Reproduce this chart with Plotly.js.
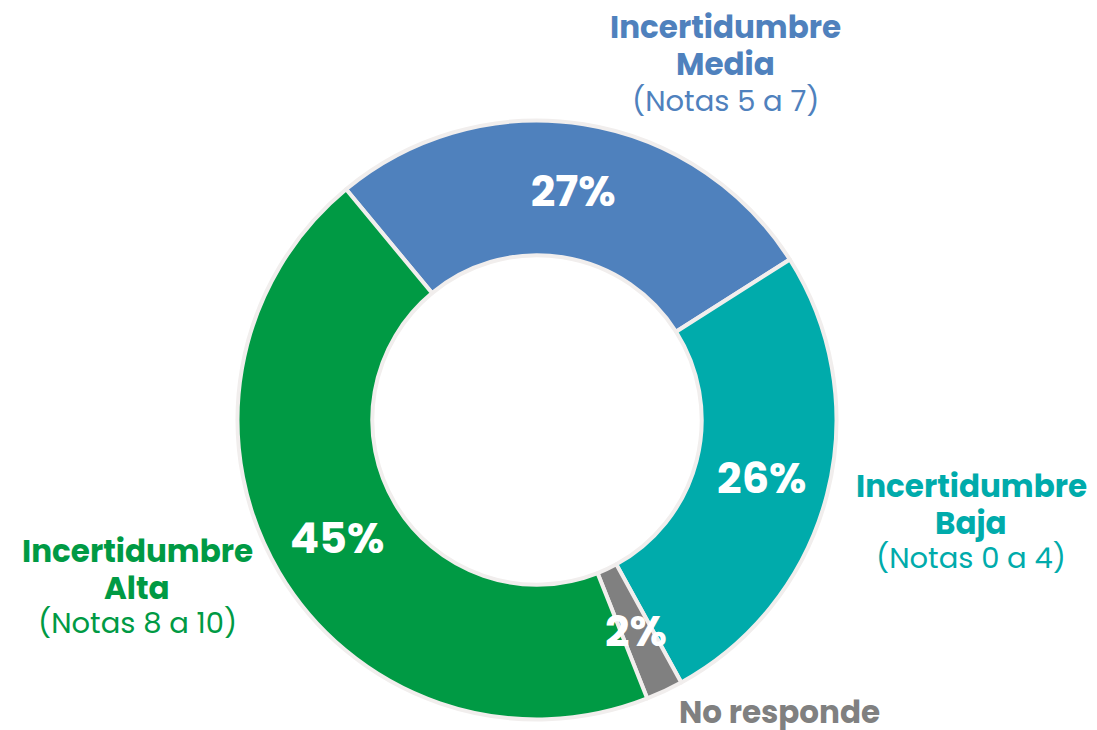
<!DOCTYPE html>
<html>
<head>
<meta charset="utf-8">
<script src="https://cdn.plot.ly/plotly-3.0.1.min.js"></script>
<style>html,body{margin:0;padding:0;background:#fff;}#chart{width:1097px;height:730px;}</style>
</head>
<body>
<div id="chart"></div>
<script>
const categories = ["Incertidumbre Media", "Incertidumbre Baja", "No responde", "Incertidumbre Alta"];
const values = [27, 26, 2, 45];
const pctLabels = ["27%", "26%", "2%", "45%"];
const notes = ["(Notas 5 a 7)", "(Notas 0 a 4)", "", "(Notas 8 a 10)"];
const colors = ["#4f81bd", "#00abab", "#808080", "#009a44"];

const FONT = "Poppins, 'Open Sans', Inter, sans-serif";
const W = 1097, H = 730;
const DOM = {x: [0.2165, 0.7625], y: [0.0137, 0.8356]};
const ROT = -39.6;

const trace = {
  type: "pie",
  labels: categories,
  values: values,
  sort: false,
  direction: "clockwise",
  rotation: ROT,
  hole: 0.55,
  marker: {colors: colors, line: {color: "#f1eeed", width: 4}},
  texttemplate: pctLabels.map((t, i) => values[i] < 5 ? "" : t),
  textinfo: "text",
  textposition: "inside",
  insidetextorientation: "horizontal",
  textfont: {family: FONT, size: 43, color: "#ffffff", weight: 700},
  domain: DOM,
  showlegend: false,
  hoverinfo: "label+percent"
};

function txt(text, cx, cy, color, size, bold) {
  return {
    text: bold ? "<b>" + text + "</b>" : text,
    x: cx / W, y: 1 - cy / H, xref: "paper", yref: "paper",
    xanchor: "center", yanchor: "middle", showarrow: false,
    font: {family: FONT, size: size, color: color}
  };
}

// label blocks: [category index, center x, line centre ys]
const blocks = [
  [0, 725, [27, 64, 101]],
  [1, 971, [486, 523, 558]],
  [3, 137, [551, 588, 623]]
];
const annotations = [];
blocks.forEach(([i, cx, ys]) => {
  const parts = categories[i].split(" ");
  annotations.push(txt(parts[0], cx, ys[0], colors[i], 31, true));
  annotations.push(txt(parts[1], cx, ys[1], colors[i], 31, true));
  annotations.push(txt(notes[i], cx, ys[2], colors[i], 29, false));
});
annotations.push(txt(categories[2], 779, 712, colors[2], 31, true));

// small-slice percent label placed on ring middle, computed from data
const total = values.reduce((a, b) => a + b, 0);
let cum = 0;
values.forEach((v, i) => {
  const mid = ROT + (cum + v / 2) / total * 360;
  cum += v;
  if (v < 5) {
    const cx = (DOM.x[0] + DOM.x[1]) / 2 * W, cy = (1 - (DOM.y[0] + DOM.y[1]) / 2) * H;
    const r = 233;
    const a = mid * Math.PI / 180;
    annotations.push(txt(pctLabels[i], cx + r * Math.sin(a), cy - r * Math.cos(a), "#ffffff", 43, true));
  }
});

const layout = {
  width: W, height: H,
  margin: {l: 0, r: 0, t: 0, b: 0},
  paper_bgcolor: "#ffffff",
  plot_bgcolor: "#ffffff",
  annotations: annotations,
  showlegend: false
};

Plotly.newPlot("chart", [trace], layout, {displayModeBar: false, staticPlot: true});
</script>
</body>
</html>
